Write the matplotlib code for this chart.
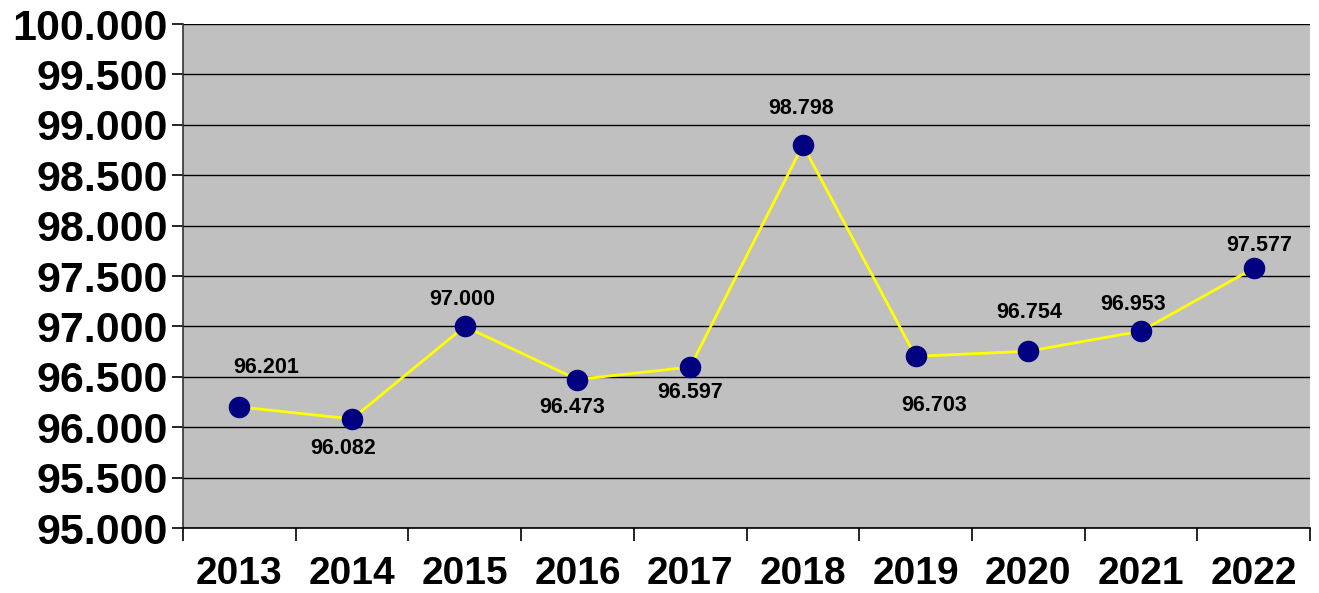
import matplotlib
matplotlib.use("Agg")
import matplotlib.pyplot as plt
from matplotlib.ticker import FuncFormatter, MultipleLocator

years = ["2013", "2014", "2015", "2016", "2017", "2018", "2019", "2020", "2021", "2022"]
values = [96201, 96082, 97000, 96473, 96597, 98798, 96703, 96754, 96953, 97577]
# label offsets from the marker centre in pixels (dx, dy; positive dy = up)
label_offsets = [(27, 39), (-9, -30), (-2, 27), (-5, -28), (0, -25),
                 (-2, 37), (19, -49), (1, 39), (-8, 27), (6, 23)]

plt.rcParams['font.family'] = ['Liberation Sans', 'DejaVu Sans']

fig = plt.figure(figsize=(13.19, 5.93), dpi=100)
ax = fig.add_axes([183/1319, 1 - 528/593, (1310-183)/1319, (528-24)/593])
ax.set_facecolor('#C0C0C0')

x = list(range(len(years)))
ax.plot(x, values, color='#FFFF00', lw=2, zorder=3)
ax.plot(x, values, 'o', color='#000080', ms=14.5, zorder=4)

fmt = lambda v: f"{int(round(v)):,}".replace(",", ".")
px = 72 / 100
for xi, v, (dx, dy) in zip(x, values, label_offsets):
    ax.annotate(fmt(v), (xi, v), xytext=(dx * px, dy * px), textcoords='offset points',
                ha='center', va='center', fontsize=15.5, fontweight='bold')

ax.set_ylim(95000, 100000)
ax.set_xlim(-0.5, len(years) - 0.5)
ax.yaxis.set_major_locator(MultipleLocator(500))
ax.yaxis.set_major_formatter(FuncFormatter(lambda v, p: fmt(v)))
ax.grid(axis='y', color='black', lw=1)
ax.set_axisbelow(True)

ax.set_xticks([i - 0.5 for i in range(len(years) + 1)])
ax.set_xticklabels([])
ax.set_xticks(x, minor=True)
ax.set_xticklabels(years, minor=True)
ax.tick_params(axis='x', which='major', length=9, width=1.2, color='black')
ax.tick_params(axis='x', which='minor', length=0, pad=20, labelsize=28)
ax.tick_params(axis='y', length=8, width=1.2, labelsize=31, pad=3)
for lbl in ax.get_xticklabels(minor=True) + ax.get_yticklabels():
    lbl.set_fontweight('bold')

for s in ['top', 'right']:
    ax.spines[s].set_visible(False)
ax.spines['left'].set_color('#333333')
ax.spines['bottom'].set_color('black')
ax.spines['left'].set_linewidth(1.2)
ax.spines['bottom'].set_linewidth(1.2)

fig.savefig('out.png', dpi=100)
